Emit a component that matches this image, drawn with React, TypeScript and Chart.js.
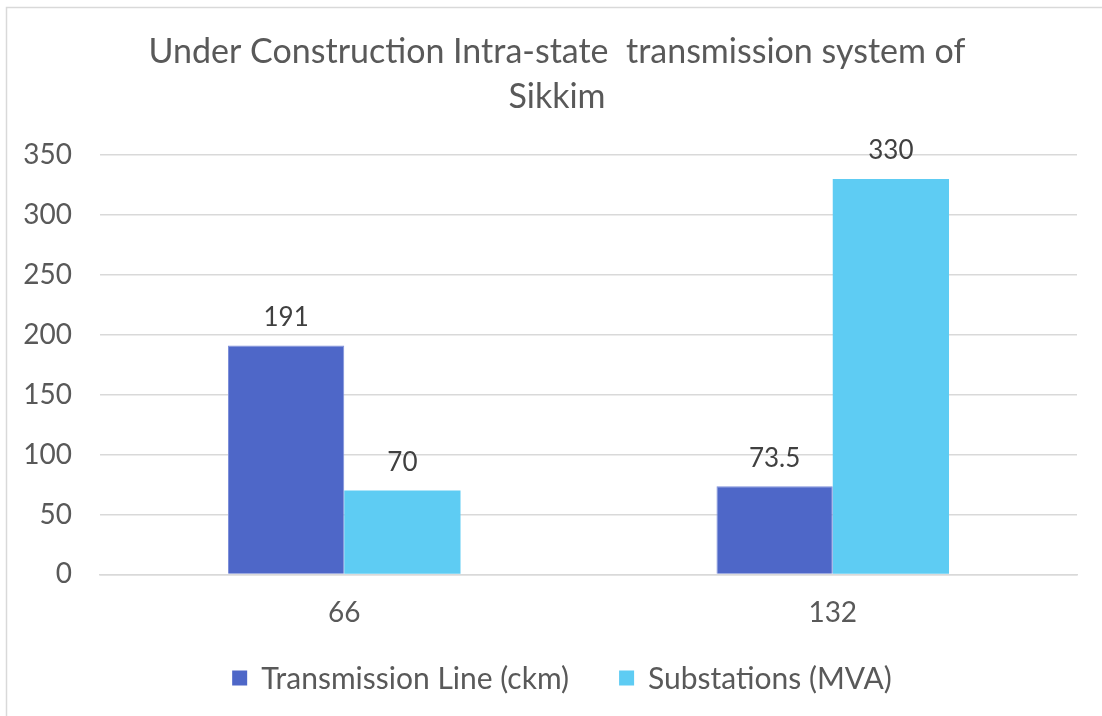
import React, { useEffect, useRef } from "react";
import { Chart, registerables } from "chart.js";

Chart.register(...registerables);

const categories = ["66", "132"];
const transmissionLine = [191, 73.5];
const substations = [70, 330];
const seriesNames = ["Transmission Line (ckm)", "Substations (MVA)"];
const seriesColors = ["#4E67C8", "#5ECCF3"];
const titleLines = ["Under Construction Intra-state  transmission system of", "Sikkim"];
const yMin = 0;
const yMax = 350;
const yStep = 50;

const FONT = "Lato, 'Open Sans', sans-serif";
const TEXT = "#595959";

const borderPlugin = {
  id: "outerBorder",
  beforeDraw(chart: any) {
    const ctx = chart.ctx;
    ctx.save();
    ctx.fillStyle = "#ffffff";
    ctx.fillRect(0, 0, chart.width, chart.height);
    ctx.strokeStyle = "#d9d9d9";
    ctx.lineWidth = 1.5;
    ctx.strokeRect(6.5, 7.5, chart.width + 20, chart.height + 20);
    ctx.restore();
  },
};

const titlePlugin = {
  id: "customTitle",
  afterDraw(chart: any) {
    const ctx = chart.ctx;
    ctx.save();
    ctx.font = `34px ${FONT}`;
    ctx.fillStyle = TEXT;
    ctx.textAlign = "center";
    ctx.textBaseline = "middle";
    titleLines.forEach((line, i) => {
      ctx.fillText(line, 557, 52 + i * 45);
    });
    ctx.restore();
  },
};

const labelPlugin = {
  id: "barLabels",
  afterDatasetsDraw(chart: any) {
    const ctx = chart.ctx;
    ctx.save();
    ctx.font = `26px ${FONT}`;
    ctx.fillStyle = "#404040";
    ctx.textAlign = "center";
    ctx.textBaseline = "middle";
    chart.data.datasets.forEach((ds: any, i: number) => {
      const meta = chart.getDatasetMeta(i);
      meta.data.forEach((bar: any, j: number) => {
        ctx.fillText(String(ds.data[j]), bar.x, bar.y - 28);
      });
    });
    ctx.restore();
  },
};

const legendPlugin = {
  id: "customLegend",
  afterDraw(chart: any) {
    const ctx = chart.ctx;
    ctx.save();
    ctx.font = `30px ${FONT}`;
    ctx.textBaseline = "middle";
    ctx.textAlign = "left";
    const box = 15;
    const gap = 14;
    const itemGap = 50;
    const ds = chart.data.datasets;
    const widths = ds.map((d: any) => box + gap + ctx.measureText(d.label).width);
    const total = widths.reduce((a: number, b: number) => a + b, 0) + itemGap * (ds.length - 1);
    let x = 562 - total / 2;
    const y = 678;
    ds.forEach((d: any, i: number) => {
      ctx.fillStyle = d.backgroundColor;
      ctx.fillRect(x, y - box / 2, box, box);
      ctx.fillStyle = TEXT;
      ctx.fillText(d.label, x + box + gap, y + 1);
      x += widths[i] + itemGap;
    });
    ctx.restore();
  },
};

export default function App() {
  const ref = useRef<HTMLCanvasElement | null>(null);
  useEffect(() => {
    document.body.style.margin = "0";
    const chart = new Chart(ref.current as HTMLCanvasElement, {
      type: "bar",
      data: {
        labels: categories,
        datasets: [
          {
            label: seriesNames[0],
            data: transmissionLine,
            backgroundColor: seriesColors[0],
            borderColor: "#7F90DA",
            borderWidth: 1,
            barPercentage: 1,
            categoryPercentage: 0.476,
          },
          {
            label: seriesNames[1],
            data: substations,
            backgroundColor: seriesColors[1],
            borderWidth: 0,
            barPercentage: 1,
            categoryPercentage: 0.476,
          },
        ],
      },
      options: {
        animation: false,
        responsive: false,
        layout: { padding: { left: 0, right: 25, top: 155, bottom: 72 } },
        plugins: {
          title: { display: false },
          legend: { display: false },
          tooltip: { enabled: false },
        },
        scales: {
          x: {
            grid: { display: false },
            border: { display: true, color: "#d9d9d9", width: 1.5 },
            ticks: { color: TEXT, font: { family: FONT, size: 28 }, padding: 14 },
          },
          y: {
            min: yMin,
            max: yMax,
            ticks: {
              stepSize: yStep,
              color: TEXT,
              font: { family: FONT, size: 28 },
              padding: 28,
            },
            grid: { color: "#d9d9d9", lineWidth: 1.5, drawTicks: false },
            border: { display: false },
            afterFit(scale: any) {
              scale.width = 100;
            },
          },
        },
      },
      plugins: [borderPlugin, labelPlugin, titlePlugin, legendPlugin],
    } as any);
    return () => chart.destroy();
  }, []);
  return <canvas ref={ref} width={1102} height={716} style={{ display: "block" }} />;
}
